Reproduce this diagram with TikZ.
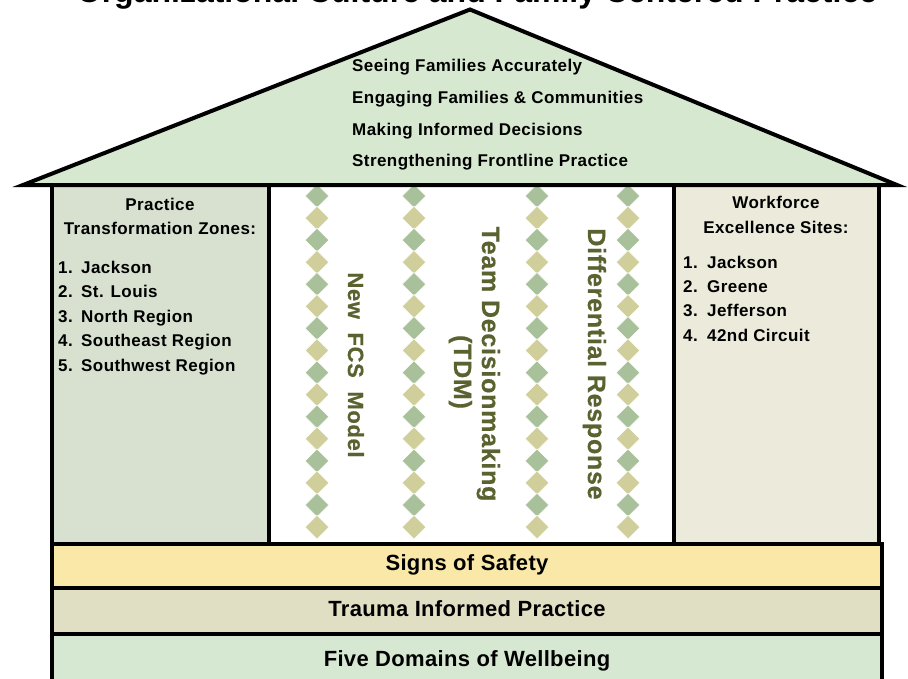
\documentclass[tikz,border=0pt]{standalone}
\usepackage{fontspec}
\setmainfont{Liberation Sans}
\newfontfamily\labelfont{Liberation Sans}[LetterSpace=2.5]
\newfontfamily\pillarfont{Liberation Sans}[LetterSpace=3,FakeBold=0.6]
\newfontfamily\bandfont{Liberation Sans}[LetterSpace=1.5]

\definecolor{roofgreen}{HTML}{D6E8CF}
\definecolor{leftfill}{HTML}{D8E1D0}
\definecolor{rightfill}{HTML}{EBEADB}
\definecolor{safetyfill}{HTML}{FAE8A8}
\definecolor{traumafill}{HTML}{E1DFC3}
\definecolor{wellfill}{HTML}{D6E8D2}
\definecolor{diagreen}{HTML}{A8C19B}
\definecolor{diakhaki}{HTML}{D0CE9A}
\definecolor{olive}{HTML}{5A6330}

\begin{document}
\begin{tikzpicture}[x=1pt,y=-1pt,line join=miter,
  wall/.style={draw=black,line width=4pt},
  roofline/.style={anchor=base west,inner sep=0pt,font=\labelfont\bfseries\fontsize{17}{20}\selectfont},
  boxhead/.style={anchor=base,inner sep=0pt,font=\labelfont\bfseries\fontsize{17}{20}\selectfont},
  listitem/.style={anchor=base west,inner sep=0pt,font=\labelfont\bfseries\fontsize{17}{20}\selectfont},
  pillar/.style={anchor=base,rotate=-90,inner sep=0pt,text=olive,font=\pillarfont\bfseries\fontsize{25}{30}\selectfont},
  bandtext/.style={anchor=base,inner sep=0pt,font=\bandfont\bfseries\fontsize{22}{26}\selectfont}]

\useasboundingbox (0,0) rectangle (908,678);
\fill[white] (0,0) rectangle (908,678);

% heading, mostly above the page
\node[anchor=base,inner sep=0pt,font=\bfseries\fontsize{32}{38}\selectfont] (title) at (477,2)
  {Organizational Culture and Family Centered Practice};

% foundation bands
\filldraw[wall,fill=wellfill] (52,634) rectangle (882,700);
\filldraw[wall,fill=traumafill] (52,588) rectangle (882,634);
\filldraw[wall,fill=safetyfill] (52,543.5) rectangle (882,588);

% side rooms
\filldraw[wall,fill=leftfill] (52,185) rectangle (269,543.5);
\filldraw[wall,fill=rightfill] (674,185) rectangle (878.5,543.5);

% diamond columns
\foreach \cx in {317,414,537,628}{
  \foreach \k in {0,...,15}{
    \pgfmathsetmacro{\cy}{196+22.07*\k}
    \pgfmathparse{int(mod(\k,2))}
    \ifnum\pgfmathresult=0 \def\dcol{diagreen}\else\def\dcol{diakhaki}\fi
    \filldraw[fill=\dcol,draw=white,line width=0.5pt]
      (\cx,\cy-11.8) -- (\cx+11.8,\cy) -- (\cx,\cy+11.8) -- (\cx-11.8,\cy) -- cycle;
  }
}

% roof
\filldraw[wall,fill=roofgreen] (23,185) -- (470,9.5) -- (897,185) -- cycle;

% roof texts
\node[roofline] (see)    at (352,71)  {Seeing Families Accurately};
\node[roofline] (engage) at (352,103) {Engaging Families \& Communities};
\node[roofline] (decide) at (352,135) {Making Informed Decisions};
\node[roofline] (front)  at (352,166) {Strengthening Frontline Practice};

% left room
\node[boxhead] (pzhead)  at (160,210) {Practice};
\node[boxhead] (pzhead2) at (160,234) {Transformation Zones:};
\foreach \n/\t in {1/Jackson,2/St. Louis,3/North Region,4/Southeast Region,5/Southwest Region}{
  \node[listitem] (pz\n) at (58,{273+24.6*(\n-1)}) {\makebox[23pt][l]{\n.}\t};
}

% right room
\node[boxhead] (wehead)  at (776,208) {Workforce};
\node[boxhead] (wehead2) at (776,233) {Excellence Sites:};
\foreach \n/\t in {1/Jackson,2/Greene,3/Jefferson,4/42nd Circuit}{
  \node[listitem] (we\n) at (683,{268+24.4*(\n-1)}) {\makebox[24pt][l]{\n.}\t};
}

% pillars
\node[pillar,font=\pillarfont\bfseries\fontsize{22}{26}\selectfont] (fcs) at (348,365) {New\ \ FCS\ \ Model};
\node[pillar] (tdm)  at (482,364) {Team Decisionmaking};
\node[pillar] (tdmabbr) at (454,372) {(TDM)};
\node[pillar] (dr)   at (588,364) {Differential Response};

% band labels
\node[bandtext] (safety) at (467,570) {Signs of Safety};
\node[bandtext] (trauma) at (467,616) {Trauma Informed Practice};
\node[bandtext] (well)   at (467,666) {Five Domains of Wellbeing};
\end{tikzpicture}
\end{document}
